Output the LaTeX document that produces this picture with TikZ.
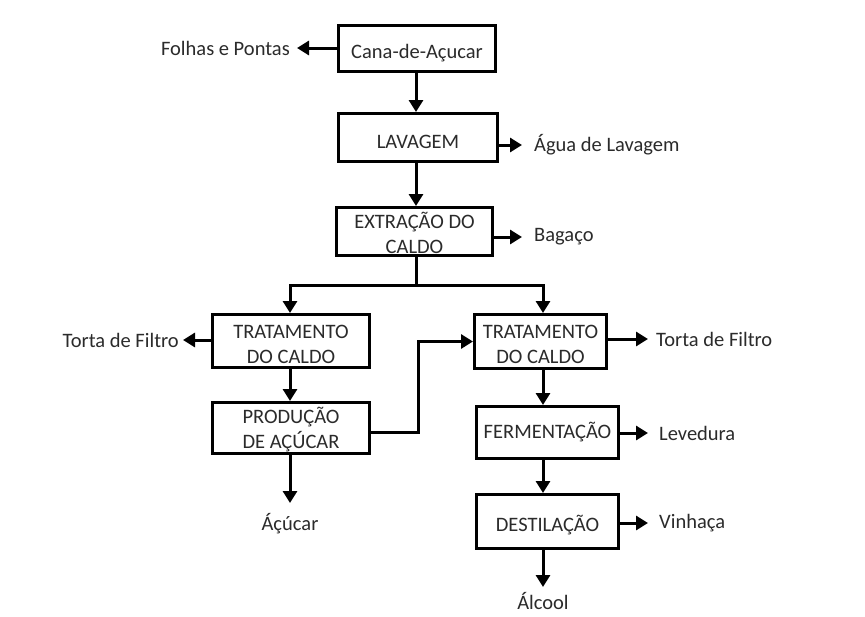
\documentclass[tikz,border=0pt]{standalone}
\usepackage{fontspec}
\setmainfont{Carlito}
\usetikzlibrary{arrows.meta}
\definecolor{txt}{HTML}{2B2B2B}
\begin{document}
\begin{tikzpicture}[x=1pt,y=-1pt,
 proc/.style={draw, line width=3pt, align=center, font=\fontsize{20.5}{25}\selectfont, text=txt, inner sep=0pt},
 low/.style={text height=20pt, text depth=0pt},
 lbl/.style={font=\fontsize{20.5}{25}\selectfont, text=txt, inner ysep=2pt, inner xsep=7pt},
 flow/.style={line width=3pt, -{Triangle[length=12pt,width=14pt]}},
 line/.style={line width=3pt},
]
\useasboundingbox[fill=white] (0,0) rectangle (865,616);

\node[proc, low, minimum width=157pt, minimum height=46pt] (cana) at (417,48.5) {Cana-de-Açucar};
\node[proc, low, text height=21pt, minimum width=159pt, minimum height=48pt] (lav) at (418,137.5) {LAVAGEM};
\node[proc, minimum width=156pt, minimum height=48pt] (ext) at (414.5,231.5) {\rule{0pt}{19pt}EXTRAÇÃO DO\\CALDO};
\node[proc, minimum width=157pt, minimum height=53pt] (tl) at (291,341) {\rule{0pt}{20pt}TRATAMENTO\\DO CALDO};
\node[proc, minimum width=132pt, minimum height=54pt] (tr) at (540.5,341.5) {\rule{0pt}{20pt}TRATAMENTO\\DO CALDO};
\node[proc, minimum width=157pt, minimum height=51pt] (prod) at (291,428) {\rule{0pt}{19pt}PRODUÇÃO\\DE AÇÚCAR};
\node[proc, minimum width=142pt, minimum height=52pt] (ferm) at (547.5,432.5) {FERMENTAÇÃO};
\node[proc, low, minimum width=142pt, minimum height=54pt] (dest) at (547.5,521.5) {DESTILAÇÃO};

\node[lbl, anchor=east] (folhas) at (297,48) {Folhas e Pontas};
\node[lbl, anchor=west, inner xsep=12pt] (agua) at (522,145) {Água de Lavagem};
\node[lbl, anchor=west, inner xsep=12pt] (bagaco) at (522,237) {Bagaço};
\node[lbl, anchor=east, inner xsep=4pt] (tortaL) at (183,340) {Torta de Filtro};
\node[lbl, anchor=west, inner xsep=8pt] (tortaR) at (648,339) {Torta de Filtro};
\node[lbl, anchor=west, inner xsep=11pt] (leved) at (648,433) {Levedura};
\node[lbl, anchor=west, inner xsep=11pt] (vinh) at (648,523) {Vinhaça};
\node[lbl, anchor=north, inner ysep=10pt] (acucar) at (290,503) {Áçúcar};
\node[lbl, anchor=north, inner ysep=5pt] (alcool) at (543,587) {Álcool};

\coordinate (split) at (416,285);
\coordinate (colR) at (543,0);
\coordinate (colL) at (290,0);
\coordinate (colM) at (416,0);

\draw[flow] (cana.west |- folhas.east) -- (folhas.east);
\draw[flow] (cana.south -| colM) -- (lav.north -| colM);
\draw[flow] (lav.east |- agua.west) -- (agua.west);
\draw[flow] (lav.south -| colM) -- (ext.north -| colM);
\draw[flow] (ext.east |- bagaco.west) -- (bagaco.west);
\draw[line] (ext.south -| colM) -- (split);
\draw[flow] (split) -| (tl.north -| colL);
\draw[flow] (split) -| (tr.north -| colR);
\draw[flow] (tl.west |- tortaL.east) -- (tortaL.east);
\draw[flow] (tl.south -| colL) -- (prod.north -| colL);
\draw[flow] ([yshift=-4pt]prod.east) -- ++(47,0) |- (tr.west);
\draw[flow] (prod.south -| colL) -- (acucar.north);
\draw[flow] (tr.east |- tortaR.west) -- (tortaR.west);
\draw[flow] (tr.south -| colR) -- (ferm.north -| colR);
\draw[flow] (ferm.east |- leved.west) -- (leved.west);
\draw[flow] (ferm.south -| colR) -- (dest.north -| colR);
\draw[flow] (dest.east |- vinh.west) -- (vinh.west);
\draw[flow] (dest.south -| colR) -- (alcool.north);
\end{tikzpicture}
\end{document}
